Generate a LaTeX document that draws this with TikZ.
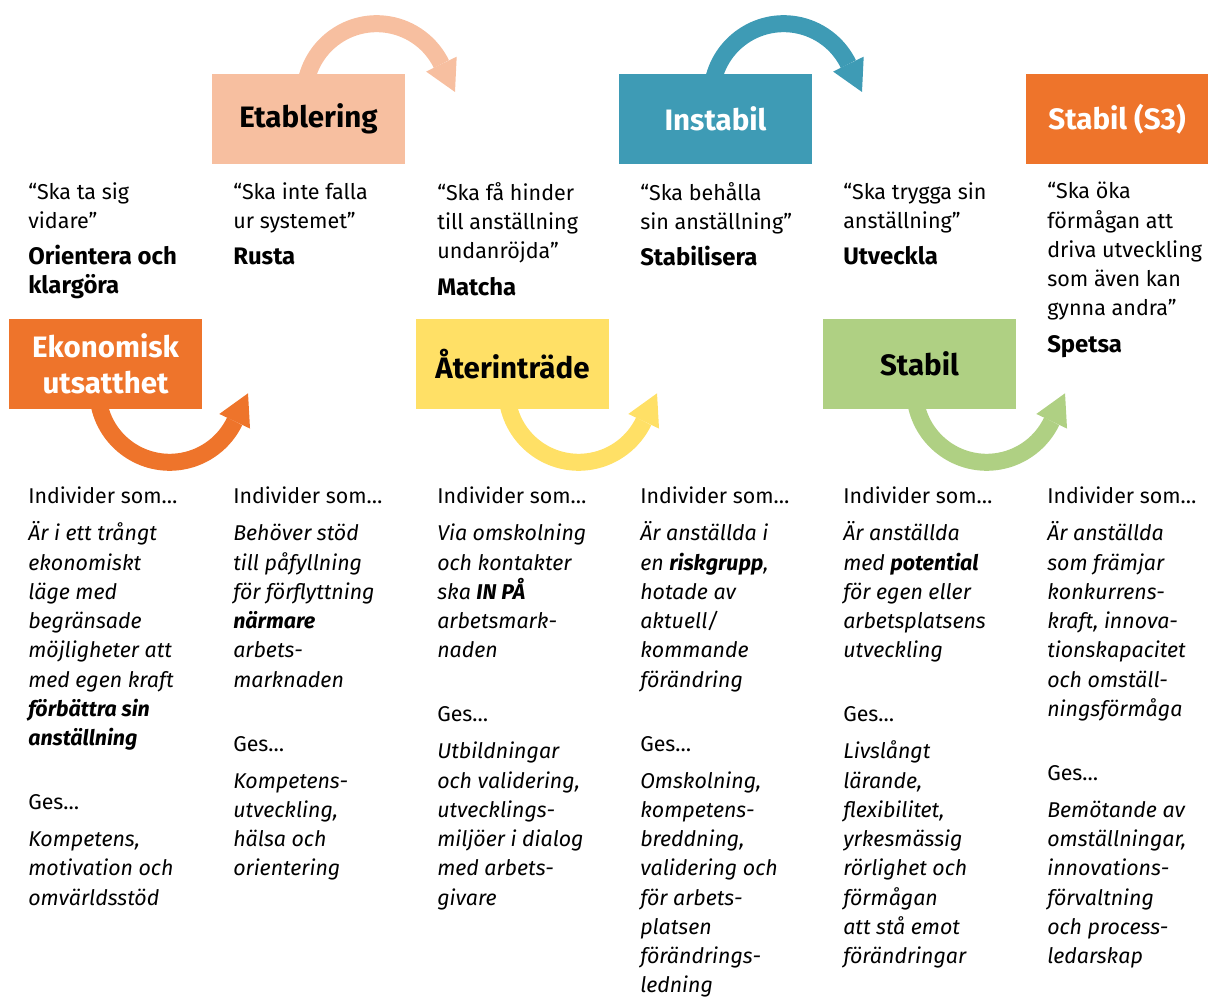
\documentclass[tikz,border=0pt]{standalone}
\usepackage{fontspec}
\setmainfont{Fira Sans}
\usetikzlibrary{calc,backgrounds}

\definecolor{peach}{RGB}{247,191,160}
\definecolor{instabblue}{RGB}{62,155,181}
\definecolor{ecorange}{RGB}{238,116,43}
\definecolor{reyellow}{RGB}{255,224,102}
\definecolor{stabgreen}{RGB}{175,208,131}

\newcommand\goalword[1]{{\fontsize{17}{20.8}\selectfont\bfseries #1}}

\tikzset{
  phase/.style={rectangle, inner sep=0pt, minimum width=4.825cm, minimum height=2.25cm,
    align=center, font=\fontsize{21}{25.6}\selectfont\bfseries},
  quote/.style={anchor=north west, inner sep=0pt, align=left,
    font=\fontsize{15.3}{20.8}\selectfont},
  body/.style={anchor=north west, inner sep=0pt, align=left,
    font=\fontsize{15.2}{20.8}\selectfont},
  bendarrow/.style={line width=0.425cm},
}

\begin{document}
\begin{tikzpicture}[x=0.025cm, y=0.025cm]
        \useasboundingbox (0,0) rectangle (1208,997);

        % Phase boxes, top row
        \node[phase, fill=peach] (etab) at (308.5,878) {Etablering};
        \node[phase, fill=instabblue, text=white] (instab) at (715.5,878) {Instabil};
        \node[phase, fill=ecorange, text=white, minimum width=4.55cm] (stabs) at (1117,878) {Stabil (S3)};

        % Phase boxes, bottom row
        \node[phase, fill=ecorange, text=white] (ekon) at (105.5,633) {Ekonomisk\\utsatthet};
        \node[phase, fill=reyellow] (ater) at (512.5,633) {Återinträde};
        \node[phase, fill=stabgreen] (stab) at (919.5,633) {Stabil};

        % Curved arrows (behind the boxes)
        \begin{scope}[on background layer]
        \coordinate (etabc) at ($(etab.north west)+(165,-22)$);
        \draw[bendarrow, peach] ($(etabc)+(170:72)$) arc (170:26:72);
        \fill[peach] ($(etabc)+(26:89)$) -- ($(etabc)+(26:55)$) -- ($(etabc)+(26:72)+(-64:31)$) -- cycle;

        \coordinate (instabc) at ($(instab.north west)+(165,-22)$);
        \draw[bendarrow, instabblue] ($(instabc)+(170:72)$) arc (170:26:72);
        \fill[instabblue] ($(instabc)+(26:89)$) -- ($(instabc)+(26:55)$) -- ($(instabc)+(26:72)+(-64:31)$) -- cycle;

        \coordinate (ekonc) at ($(ekon.south west)+(161,19)$);
        \draw[bendarrow, ecorange] ($(ekonc)+(190:72)$) arc (190:334.5:72);
        \fill[ecorange] ($(ekonc)+(334.5:89)$) -- ($(ekonc)+(334.5:55)$) -- ($(ekonc)+(334.5:72)+(64.5:31)$) -- cycle;

        \coordinate (aterc) at ($(ater.south west)+(163,19)$);
        \draw[bendarrow, reyellow] ($(aterc)+(190:72)$) arc (190:334.5:72);
        \fill[reyellow] ($(aterc)+(334.5:89)$) -- ($(aterc)+(334.5:55)$) -- ($(aterc)+(334.5:72)+(64.5:31)$) -- cycle;

        \coordinate (stabc) at ($(stab.south west)+(164,19)$);
        \draw[bendarrow, stabgreen] ($(stabc)+(190:72)$) arc (190:334.5:72);
        \fill[stabgreen] ($(stabc)+(334.5:89)$) -- ($(stabc)+(334.5:55)$) -- ($(stabc)+(334.5:72)+(64.5:31)$) -- cycle;
        \end{scope}

        % Goals
        \node[quote] (q1) at (28,815) {“Ska ta sig\\vidare”\\[5pt]\goalword{Orientera och}\\\goalword{klargöra}};
        \node[quote] (q2) at (233,815) {“Ska inte falla\\ur systemet”\\[5pt]\goalword{Rusta}};
        \node[quote] (q3) at (437,815) {“Ska få hinder\\till anställning\\undanröjda”\\[5pt]\goalword{Matcha}};
        \node[quote] (q4) at (640,815) {“Ska behålla\\sin anställning”\\[5pt]\goalword{Stabilisera}};
        \node[quote] (q5) at (843,815) {“Ska trygga sin\\anställning”\\[5pt]\goalword{Utveckla}};
        \node[quote] (q6) at (1047,815) {“Ska öka\\förmågan att\\driva utveckling\\som även kan\\gynna andra”\\[5pt]\goalword{Spetsa}};

        % Target groups and support
        \node[body] (i1) at (28,510) {Individer som…\\[5.5pt]
          \textit{Är i ett trångt}\\\textit{ekonomiskt}\\\textit{läge med}\\\textit{begränsade}\\
          \textit{möjligheter att}\\\textit{med egen kraft}\\\textbf{\textit{förbättra sin}}\\\textbf{\textit{anställning}}\\[24.7pt]
          Ges…\\[5.5pt]
          \textit{Kompetens,}\\\textit{motivation och}\\\textit{omvärldsstöd}};
        \node[body] (i2) at (233,510) {Individer som…\\[5.5pt]
          \textit{Behöver stöd}\\\textit{till påfyllning}\\\textit{för förflyttning}\\\textbf{\textit{närmare}}\\
          \textit{arbets-}\\\textit{marknaden}\\[24.7pt]
          Ges…\\[5.5pt]
          \textit{Kompetens-}\\\textit{utveckling,}\\\textit{hälsa och}\\\textit{orientering}};
        \node[body] (i3) at (437,510) {Individer som…\\[5.5pt]
          \textit{Via omskolning}\\\textit{och kontakter}\\\textit{ska \textbf{IN PÅ}}\\\textit{arbetsmark-}\\
          \textit{naden}\\[24.7pt]
          Ges…\\[5.5pt]
          \textit{Utbildningar}\\\textit{och validering,}\\\textit{utvecklings-}\\\textit{miljöer i dialog}\\
          \textit{med arbets-}\\\textit{givare}};
        \node[body] (i4) at (640,510) {Individer som…\\[5.5pt]
          \textit{Är anställda i}\\\textit{en \textbf{riskgrupp},}\\\textit{hotade av}\\\textit{aktuell/}\\
          \textit{kommande}\\\textit{förändring}\\[24.7pt]
          Ges…\\[5.5pt]
          \textit{Omskolning,}\\\textit{kompetens-}\\\textit{breddning,}\\\textit{validering och}\\
          \textit{för arbets-}\\\textit{platsen}\\\textit{förändrings-}\\\textit{ledning}};
        \node[body] (i5) at (843,510) {Individer som…\\[5.5pt]
          \textit{Är anställda}\\\textit{med \textbf{potential}}\\\textit{för egen eller}\\\textit{arbetsplatsens}\\
          \textit{utveckling}\\[24.7pt]
          Ges…\\[5.5pt]
          \textit{Livslångt}\\\textit{lärande,}\\\textit{flexibilitet,}\\\textit{yrkesmässig}\\
          \textit{rörlighet och}\\\textit{förmågan}\\\textit{att stå emot}\\\textit{förändringar}};
        \node[body] (i6) at (1047,510) {Individer som…\\[5.5pt]
          \textit{Är anställda}\\\textit{som främjar}\\\textit{konkurrens-}\\\textit{kraft, innova-}\\
          \textit{tionskapacitet}\\\textit{och omställ-}\\\textit{ningsförmåga}\\[24.7pt]
          Ges…\\[5.5pt]
          \textit{Bemötande av}\\\textit{omställningar,}\\\textit{innovations-}\\\textit{förvaltning}\\
          \textit{och process-}\\\textit{ledarskap}};
    \end{tikzpicture}
\end{document}
